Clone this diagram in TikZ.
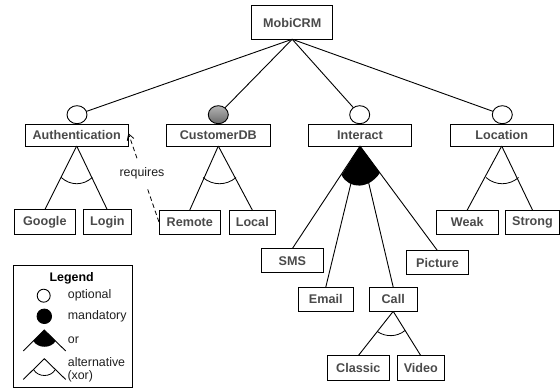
\documentclass[tikz,border=0pt]{standalone}
\usepackage{fontspec}
\setmainfont{Liberation Sans}
\usetikzlibrary{shapes.geometric,arrows.meta}
\definecolor{lbl}{HTML}{4A4A4A}
\definecolor{txt}{HTML}{1E1E1E}
\definecolor{ballhi}{HTML}{B4B4B4}
\definecolor{balllo}{HTML}{6A6A6A}
\tikzset{
  feat/.style={draw=black,line width=0.9pt,fill=white,inner sep=0pt,outer sep=0pt,font=\fontsize{12.6}{14}\selectfont\bfseries,text=lbl},
  ball/.style={draw=black,line width=0.9pt,ellipse,inner sep=0pt,outer sep=0pt,minimum width=20pt,minimum height=18pt,fill=white},
  graybal/.style={ball,top color=ballhi,bottom color=balllo},
  link/.style={draw=black,line width=0.9pt},
  arcl/.style={draw=black,line width=0.8pt},
  plain/.style={inner sep=0pt,font=\fontsize{12.4}{14}\selectfont,text=txt},
  legtext/.style={plain,anchor=west},
}
\begin{document}
\begin{tikzpicture}[x=1pt,y=-1pt]
\useasboundingbox (0,0) rectangle (560,390);
% top
\node[feat,minimum width=81pt,minimum height=33.3pt] (mobi) at (292.2,22.6) {MobiCRM};
% level 1
\node[feat,minimum width=103.3pt,minimum height=21.7pt] (auth) at (76.7,135.2) {Authentication};
\node[feat,minimum width=103.3pt,minimum height=21.7pt] (cust) at (218.3,135.2) {CustomerDB};
\node[feat,minimum width=103.3pt,minimum height=21.7pt] (inter) at (360,135.2) {Interact};
\node[feat,minimum width=103.3pt,minimum height=21.7pt] (loc) at (501.7,135.2) {Location};
% circles
\node[ball] (cauth) at (77,114.7) {};
\node[graybal] (ccust) at (218.3,114.7) {};
\node[ball] (cinter) at (359.7,114.7) {};
\node[ball] (cloc) at (502.3,114.7) {};
\draw[link] (mobi.south) -- (cauth);
\draw[link] (mobi.south) -- (ccust);
\draw[link] (mobi.south) -- (cinter);
\draw[link] (mobi.south) -- (cloc);
% leaves
\node[feat,minimum width=61.7pt,minimum height=24.3pt] (google) at (44.8,221.9) {Google};
\node[feat,minimum width=48pt,minimum height=24.3pt] (login) at (107.3,221.9) {Login};
\node[feat,minimum width=61.7pt,minimum height=24pt] (remote) at (189.8,222) {Remote};
\node[feat,minimum width=46pt,minimum height=24pt] (local) at (252.3,222) {Local};
\node[feat,minimum width=62.3pt,minimum height=24.5pt] (weak) at (467.2,222.3) {Weak};
\node[feat,minimum width=53.6pt,minimum height=24.5pt] (strong) at (532.5,222.3) {Strong};
\node[feat,minimum width=62pt,minimum height=24.3pt] (sms) at (292.3,260.8) {SMS};
\node[feat,minimum width=61.6pt,minimum height=24.3pt] (picture) at (437.5,262.8) {Picture};
\node[feat,minimum width=54.3pt,minimum height=24.3pt] (email) at (325.8,299.2) {Email};
\node[feat,minimum width=47.7pt,minimum height=24.3pt] (call) at (393.2,299.2) {Call};
\node[feat,minimum width=62pt,minimum height=24.3pt] (classic) at (358.3,367.8) {Classic};
\node[feat,minimum width=47.7pt,minimum height=24.3pt] (video) at (420.8,367.8) {Video};
% tree connectors
\draw[link] (auth.south) -- (google.north);
\draw[link] (auth.south) -- (login.north);
\draw[link] (cust.south) -- (remote.north);
\draw[link] (cust.south) -- (local.north);
\draw[link] (loc.south) -- (weak.north);
\draw[link] (loc.south) -- (strong.north);
\draw[link] (call.south) -- (classic.north);
\draw[link] (call.south) -- (video.north);
\draw[link] (inter.south) -- (sms.north);
\draw[link] (inter.south) -- (email.north);
\draw[link] (inter.south) -- (call.north);
\draw[link] (inter.south) -- (picture.north);
% arcs
\draw[arcl] (61.2,177.5) .. controls (70.5,185.8) and (83,185.8) .. (92.3,177.5);
\draw[arcl] (203,177.5) .. controls (212.5,185.8) and (226.5,185.8) .. (236,177.5);
\draw[arcl] (486,177.5) .. controls (495.5,185.8) and (509,185.8) .. (518.6,177.5);
\draw[arcl] (377.3,331.5) .. controls (385.5,337.2) and (397,337.2) .. (405,330.5);
% or sector
\fill[black] (inter.south) -- (341.5,175) .. controls (349,189.5) and (369,189.5) .. (380,172.7) -- cycle;
% requires
\draw[link,line width=0.8pt,dash pattern=on 4.5pt off 3pt,-{Straight Barb[length=6pt,width=7pt]}] (remote.west) -- ([yshift=2pt]auth.east);
\node[plain,fill=white,minimum width=47pt,minimum height=28pt] (req) at (142,173) {requires};
% legend
\node[draw=black,line width=0.9pt,minimum width=118.3pt,minimum height=122pt,inner sep=0pt] (legend) at (72.8,326.7) {};
\node[feat,draw=none,fill=none,text=black,font=\fontsize{12.4}{14}\selectfont\bfseries] (legtitle) at (71.7,278) {Legend};
\node[ball,minimum width=13pt,minimum height=13pt] (lopt) at (43.7,295.7) {};
\node[legtext] (topt) at (67.7,295.7) {optional};
\node[ball,fill=black,minimum width=14.5pt,minimum height=14.5pt] (lman) at (44.3,316.3) {};
\node[legtext] (tman) at (67.7,316.7) {mandatory};
\coordinate (orA) at (44.3,330);
\coordinate (orL) at (23.3,351);
\coordinate (orR) at (65.7,351);
\draw[link] (orL) -- (orA) -- (orR);
\fill[black] (orA) -- (33.3,341) .. controls (38,348.7) and (51,348.7) .. (55.7,341) -- cycle;
\node[legtext] (tor) at (67.7,340) {or};
\coordinate (xA) at (44.3,358.7);
\coordinate (xL) at (23.3,379.5);
\coordinate (xR) at (65.7,379.5);
\draw[link] (xL) -- (xA) -- (xR);
\draw[arcl] (33.5,369.5) .. controls (38,377.5) and (51,377.5) .. (55.3,369.5);
\node[legtext] (talt) at (67.7,361.7) {alternative};
\node[legtext] (txor) at (67.3,376.5) {(xor)};
\end{tikzpicture}
\end{document}
